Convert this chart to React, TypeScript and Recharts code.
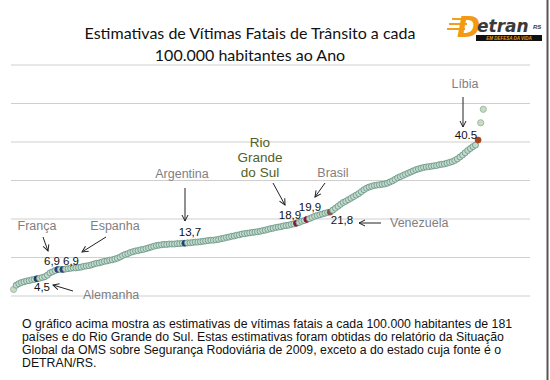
import React from "react";
import { ScatterChart, Scatter, XAxis, YAxis, CartesianGrid } from "recharts";

// mortes no trânsito por 100.000 hab., países ordenados (181 + RS)
const rates = [
  1.7, 2.8, 3.2, 3.5, 3.7, 3.9, 4.0, 4.2, 4.3, 4.5,
  4.6, 4.8, 5.0, 5.4, 6.0, 6.3, 6.6, 6.9, 6.9, 6.9,
  7.0, 7.1, 7.2, 7.3, 7.3, 7.4, 7.5, 7.7, 7.8, 7.9,
  8.1, 8.3, 8.5, 8.6, 8.8, 9.0, 9.1, 9.3, 9.4, 9.6,
  9.8, 10.1, 10.5, 10.8, 11.0, 11.3, 11.5, 11.7, 11.8, 12.0,
  12.1, 12.3, 12.5, 12.7, 12.9, 13.1, 13.2, 13.3, 13.4, 13.4,
  13.5, 13.5, 13.5, 13.6, 13.6, 13.7, 13.7, 13.8, 13.8, 13.9,
  14.0, 14.0, 14.1, 14.2, 14.3, 14.4, 14.5, 14.5, 14.6, 14.7,
  14.9, 15.0, 15.2, 15.3, 15.5, 15.6, 15.8, 15.9, 16.1, 16.2,
  16.3, 16.4, 16.5, 16.6, 16.7, 16.8, 17.0, 17.1, 17.3, 17.5,
  17.6, 17.8, 17.9, 18.0, 18.2, 18.3, 18.4, 18.6, 18.7, 18.9,
  19.1, 19.4, 19.6, 19.9, 20.1, 20.4, 20.7, 20.9, 21.1, 21.3,
  21.5, 21.7, 21.8, 22.3, 22.8, 23.3, 23.8, 24.3, 24.6, 25.0,
  25.4, 25.8, 26.2, 26.6, 27.1, 27.6, 28.0, 28.3, 28.5, 28.7,
  28.8, 28.9, 29.0, 29.1, 29.3, 29.6, 29.9, 30.3, 30.7, 31.0,
  31.3, 31.6, 31.9, 32.2, 32.5, 32.8, 33.0, 33.2, 33.4, 33.5,
  33.6, 33.7, 33.8, 33.9, 34.1, 34.2, 34.3, 34.5, 34.7, 34.9,
  35.2, 35.6, 36.1, 36.6, 37.2, 37.8, 38.3, 38.8, 39.2, 40.5,
  45.0, 48.5,
];

// posição (1..182) dos destaques
const highlightNames = ["Alemanha", "França", "Espanha", "Argentina", "Rio Grande do Sul", "Brasil", "Venezuela", "Líbia"];
const highlightRanks = [10, 18, 20, 67, 110, 114, 123, 180];
const paleRanks = [1, 181, 182];

const yTicks = [0, 10, 20, 30, 40, 50, 60];

const dotColors: Record<string, string> = {
  Alemanha: "#1d3a5a",
  "França": "#23427a",
  Espanha: "#23427a",
  Argentina: "#1f3f78",
  "Rio Grande do Sul": "#8c1537",
  Brasil: "#8c1537",
  Venezuela: "#8a4b4b",
  "Líbia": "#a9431c",
};

const points = rates.map((v, i) => {
  const rank = i + 1;
  const h = highlightRanks.indexOf(rank);
  return {
    rank,
    v,
    name: h >= 0 ? highlightNames[h] : "",
    pale: paleRanks.includes(rank),
  };
});

function Dot(props: any) {
  const { cx, cy, payload } = props;
  if (cx == null || cy == null) return null;
  if (payload.name) {
    const c = dotColors[payload.name];
    return <circle cx={cx} cy={cy} r={3} fill={c} stroke={c} strokeWidth={0.8} />;
  }
  if (payload.pale) {
    return <circle cx={cx} cy={cy} r={3.1} fill="#c9d9c4" stroke="#98b59c" strokeWidth={0.9} />;
  }
  return <circle cx={cx} cy={cy} r={3} fill="#c3dacd" stroke="#6d9a8a" strokeWidth={0.9} />;
}

const grey = "#7f7f7f";
const lbl = { fontFamily: "Liberation Sans, Arial, sans-serif", fontSize: 12.5 };
const num = { fontFamily: "Liberation Sans, Arial, sans-serif", fontSize: 11.5, fill: "#111" };

function Arrow({ x1, y1, x2, y2 }: { x1: number; y1: number; x2: number; y2: number }) {
  return <line x1={x1} y1={y1} x2={x2} y2={y2} stroke="#222" strokeWidth={1} markerEnd="url(#ah)" />;
}

export default function App() {
  return (
    <div style={{ position: "absolute", left: 0, top: 0, width: 550, height: 380, background: "#fff" }}>
      <ScatterChart width={550} height={380} margin={{ top: 65, right: 20, bottom: 84, left: 11 }}>
        <CartesianGrid horizontal vertical={false} stroke="#cfcfcf" />
        <XAxis type="number" dataKey="rank" domain={[0, 200]} hide />
        <YAxis type="number" dataKey="v" domain={[0, 60]} ticks={yTicks} hide />
        <Scatter data={points} shape={<Dot />} isAnimationActive={false} />
      </ScatterChart>

      <svg width={550} height={380} style={{ position: "absolute", left: 0, top: 0, pointerEvents: "none" }}>
        <defs>
          <marker id="ah" markerWidth="8" markerHeight="8" refX="7" refY="4" orient="auto" markerUnits="userSpaceOnUse">
            <path d="M1,1 L7,4 L1,7" fill="none" stroke="#222" strokeWidth={1} />
          </marker>
        </defs>

        {/* título */}
        <g style={{ fontFamily: "Lato, Open Sans, sans-serif", fontSize: 16 }} fill="#111" textAnchor="middle">
          <text x={250} y={39}>Estimativas de Vítimas Fatais de Trânsito a cada</text>
          <text x={250} y={61}>100.000 habitantes ao Ano</text>
        </g>

        {/* logo */}
        <g>
          <path d="M452,19 L470,19 M449,24 L467,24 M447,29 L465,29" stroke="#f0a020" strokeWidth={2} />
          <text x={457} y={37} fill="#f29a12" style={{ fontFamily: "DejaVu Sans, sans-serif", fontSize: 28, fontWeight: 700, fontStyle: "italic" }}>D</text>
          <text x={477} y={32} fill="#3a3a3a" style={{ fontFamily: "DejaVu Sans, sans-serif", fontSize: 17, fontWeight: 700, fontStyle: "italic" }}>etran</text>
          <text x={533} y={29} fill="#3a3a3a" style={{ fontFamily: "Liberation Sans, sans-serif", fontSize: 6, fontWeight: 700, fontStyle: "italic" }}>RS</text>
          <rect x={476} y={35} width={66} height={6} fill="#111" />
          <text x={509} y={40} fill="#e89a20" textAnchor="middle" style={{ fontFamily: "Liberation Sans, sans-serif", fontSize: 4.5, fontWeight: 700, fontStyle: "italic" }}>EM DEFESA DA VIDA</text>
        </g>

        {/* anotações */}
        <g style={lbl} fill={grey}>
          <text x={465} y={88} textAnchor="middle">Líbia</text>
          <text x={182} y={178} textAnchor="middle">Argentina</text>
          <text x={333} y={177} textAnchor="middle">Brasil</text>
          <text x={390} y={227}>Venezuela</text>
          <text x={37} y={230} textAnchor="middle">França</text>
          <text x={115} y={230} textAnchor="middle">Espanha</text>
          <text x={83} y={299}>Alemanha</text>
        </g>
        <g style={{ ...lbl, fontSize: 13.5 }} fill="#4f6228" textAnchor="middle">
          <text x={260} y={147}>Rio</text>
          <text x={260} y={162}>Grande</text>
          <text x={260} y={177}>do Sul</text>
        </g>
        <g style={num}>
          <text x={466} y={139} textAnchor="middle">40.5</text>
          <text x={190} y={236} textAnchor="middle">13,7</text>
          <text x={290} y={219} textAnchor="middle">18,9</text>
          <text x={310} y={211} textAnchor="middle">19,9</text>
          <text x={342} y={224} textAnchor="middle">21,8</text>
          <text x={52} y={265} textAnchor="middle">6,9</text>
          <text x={71} y={265} textAnchor="middle">6,9</text>
          <text x={42} y={291} textAnchor="middle">4,5</text>
        </g>
        <Arrow x1={463} y1={97} x2={463} y2={127} />
        <Arrow x1={185} y1={188} x2={185} y2={221} />
        <Arrow x1={273} y1={183} x2={285} y2={205} />
        <Arrow x1={325} y1={183} x2={315} y2={197} />
        <Arrow x1={381} y1={223} x2={359} y2={223} />
        <Arrow x1={43} y1={237} x2={48} y2={251} />
        <Arrow x1={106} y1={237} x2={82} y2={252} />
        <Arrow x1={73} y1={291} x2={53} y2={285} />

        {/* borda direita */}
        <line x1={547.5} y1={0} x2={547.5} y2={380} stroke="#555" strokeWidth={2} />
      </svg>

      <div
        style={{
          position: "absolute",
          left: 22,
          top: 318,
          width: 510,
          fontFamily: "Liberation Sans, Arial, sans-serif",
          fontSize: 12.3,
          lineHeight: "13px",
          color: "#111",
        }}
      >
        O gráfico acima mostra as estimativas de vítimas fatais a cada 100.000 habitantes de 181 países e do Rio Grande do Sul. Estas estimativas foram obtidas do relatório da Situação Global da OMS sobre Segurança Rodoviária de 2009, exceto a do estado cuja fonte é o DETRAN/RS.
      </div>
    </div>
  );
}
